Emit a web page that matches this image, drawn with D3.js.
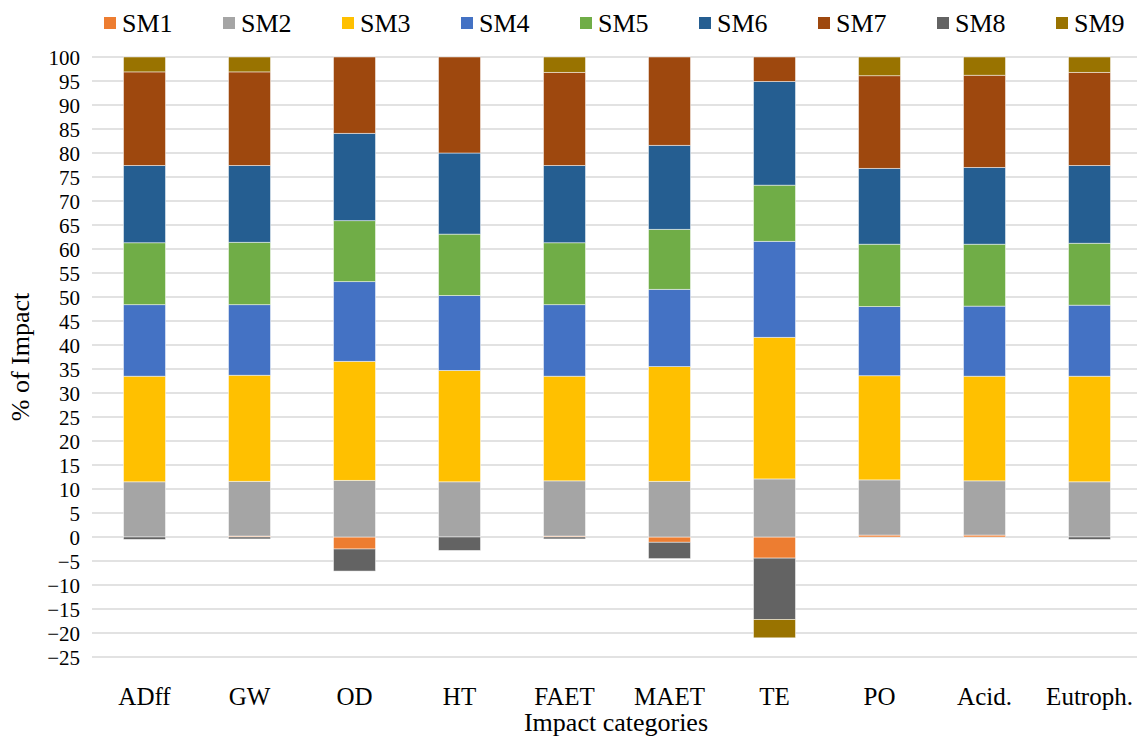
<!DOCTYPE html>
<html>
<head>
<meta charset="utf-8">
<script src="https://cdn.jsdelivr.net/npm/d3@7"></script>
<style>
  html, body { margin: 0; padding: 0; background: #fff; }
</style>
</head>
<body>
<svg id="chart" width="1137" height="737"></svg>
<script>
// data (% of impact per sub-module)
var categories = ["ADff", "GW", "OD", "HT", "FAET", "MAET", "TE", "PO", "Acid.", "Eutroph."];
var seriesNames = ["SM1", "SM2", "SM3", "SM4", "SM5", "SM6", "SM7", "SM8", "SM9"];
var SM1 = [0, 0.2, -2.5, 0, 0.2, -1.1, -4.4, 0.4, 0.4, 0];
var SM2 = [11.5, 11.4, 11.8, 11.5, 11.5, 11.6, 12.1, 11.5, 11.3, 11.5];
var SM3 = [22.0, 22.1, 24.8, 23.2, 21.8, 23.9, 29.5, 21.7, 21.8, 22.0];
var SM4 = [14.9, 14.7, 16.6, 15.6, 14.9, 16.1, 20.0, 14.4, 14.6, 14.8];
var SM5 = [12.9, 13.0, 12.7, 12.8, 12.9, 12.5, 11.7, 13.0, 12.9, 12.9];
var SM6 = [16.1, 16.0, 18.2, 16.9, 16.1, 17.5, 21.6, 15.8, 16.0, 16.2];
var SM7 = [19.5, 19.5, 15.9, 20.0, 19.4, 18.4, 5.1, 19.3, 19.2, 19.4];
var SM8 = [-0.5, -0.4, -4.6, -2.8, -0.4, -3.4, -12.8, 0, 0, -0.5];
var SM9 = [3.1, 3.1, 0, 0, 3.2, 0, -3.8, 3.9, 3.8, 3.2];
var yTicks = d3.range(-25, 101, 5);
var colors = ["#ED7D31", "#A5A5A5", "#FFC000", "#4472C4", "#70AD47", "#255E91", "#9E480E", "#636363", "#997300"];

var FONT = "Liberation Serif, Times New Roman, serif";
var allSeries = [SM1, SM2, SM3, SM4, SM5, SM6, SM7, SM8, SM9];
var rows = categories.map(function(c, i) {
  var r = { cat: c };
  seriesNames.forEach(function(s, j) { r[s] = allSeries[j][i]; });
  return r;
});

var svg = d3.select("#chart");
var MARGINS = { top: 57, bottom: 80, left: 92, right: -5 };
var W = 1137, H = 737;

var xScale = d3.scaleBand().domain(categories)
  .range([MARGINS.left, W - MARGINS.right])
  .paddingInner(0.6).paddingOuter(0.3);
var yScale = d3.scaleLinear().domain([-25, 100]).range([657, 57]);
var color = d3.scaleOrdinal().domain(seriesNames).range(colors);

// gridlines
svg.append("g").attr("class", "grid")
  .selectAll("line").data(yTicks).enter().append("line")
  .attr("x1", MARGINS.left).attr("x2", W)
  .attr("y1", function(d) { return yScale(d); })
  .attr("y2", function(d) { return yScale(d); })
  .attr("stroke", "#d9d9d9").attr("stroke-width", 1.5);

// y axis labels
var yAxis = d3.axisLeft(yScale).tickValues(yTicks).tickSize(0).tickPadding(0);
var yG = svg.append("g").attr("transform", "translate(80,0)").call(yAxis);
yG.select(".domain").remove();
yG.attr("font-family", FONT).attr("font-size", 21);
yG.selectAll("text").attr("dy", "0.34em").attr("fill", "#000");

// stacked bars
var stack = d3.stack().keys(seriesNames).offset(d3.stackOffsetDiverging).order(d3.stackOrderNone);
var layers = stack(rows);

svg.append("g").selectAll("g").data(layers).enter().append("g")
  .attr("fill", function(d) { return color(d.key); })
  .selectAll("rect").data(function(d) { return d; }).enter().append("rect")
  .attr("x", function(d) { return xScale(d.data.cat); })
  .attr("width", xScale.bandwidth())
  .attr("y", function(d) { return yScale(Math.max(d[0], d[1])); })
  .attr("height", function(d) { return Math.abs(yScale(d[0]) - yScale(d[1])); })
  .attr("stroke", "#ffffff").attr("stroke-opacity", 0.6).attr("stroke-width", 0.8);

// x axis labels
var xAxis = d3.axisBottom(xScale).tickSize(0).tickPadding(0);
var xG = svg.append("g").attr("transform", "translate(0,687)").call(xAxis);
xG.select(".domain").remove();
xG.attr("font-family", FONT).attr("font-size", 25);
xG.selectAll("text").attr("fill", "#000");

// axis titles
svg.append("text").attr("x", 616).attr("y", 731)
  .attr("text-anchor", "middle").attr("font-family", FONT).attr("font-size", 26)
  .text("Impact categories");
svg.append("text").attr("transform", "translate(29,357) rotate(-90)")
  .attr("text-anchor", "middle").attr("font-family", FONT).attr("font-size", 26)
  .text("% of Impact");

// legend
var legend = svg.append("g").selectAll("g").data(seriesNames).enter().append("g")
  .attr("transform", function(d, i) { return "translate(" + (104 + i * 119) + ",0)"; });
legend.append("rect").attr("x", 0).attr("y", 17).attr("width", 12).attr("height", 12)
  .attr("fill", function(d) { return color(d); });
legend.append("text").attr("x", 18).attr("y", 32)
  .attr("font-family", FONT).attr("font-size", 26)
  .text(function(d) { return d; });
</script>
</body>
</html>
